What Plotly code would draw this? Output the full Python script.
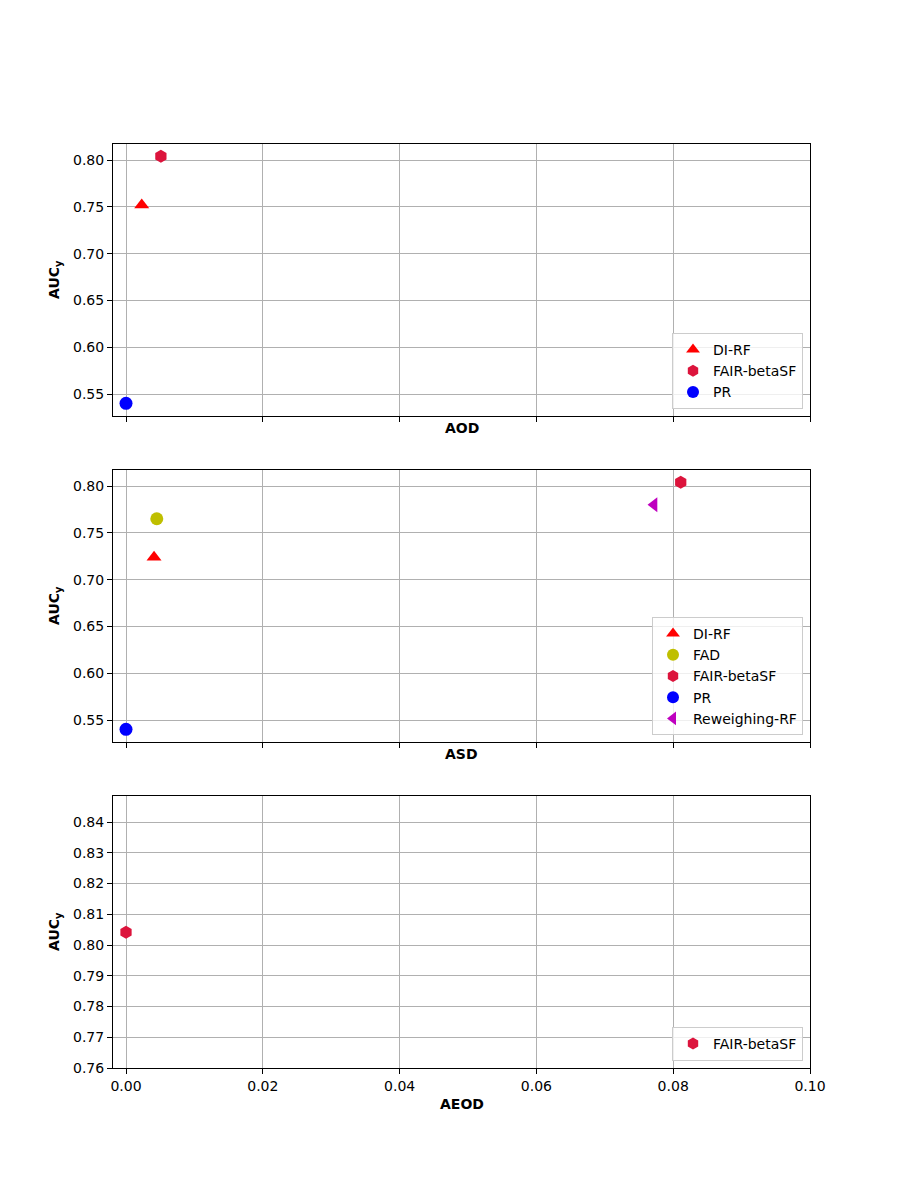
import plotly.graph_objects as go

# ---- data ----
aod_methods = ["DI-RF", "FAIR-betaSF", "PR"]
aod_x = [0.0023, 0.0051, 0.0]
aod_y = [0.752, 0.804, 0.540]

asd_methods = ["DI-RF", "FAD", "FAIR-betaSF", "PR", "Reweighing-RF"]
asd_x = [0.0041, 0.0045, 0.0811, 0.0, 0.0772]
asd_y = [0.724, 0.765, 0.804, 0.540, 0.780]

aeod_methods = ["FAIR-betaSF"]
aeod_x = [0.0]
aeod_y = [0.8042]

x_ticks = [0.0, 0.02, 0.04, 0.06, 0.08, 0.10]
y_ticks_top = [0.55, 0.60, 0.65, 0.70, 0.75, 0.80]
y_ticks_bot = [0.76, 0.77, 0.78, 0.79, 0.80, 0.81, 0.82, 0.83, 0.84]

styles = {
    "DI-RF": dict(color="#ff0000", symbol="triangle-up"),
    "FAD": dict(color="#bfbf00", symbol="circle"),
    "FAIR-betaSF": dict(color="#dc143c", symbol="hexagon"),
    "PR": dict(color="#0000ff", symbol="circle"),
    "Reweighing-RF": dict(color="#bf00bf", symbol="triangle-left"),
}

FONT = "DejaVu Sans"
FS = 14
fig = go.Figure()

panels = [
    (aod_methods, aod_x, aod_y, "x", "y", "legend", "AOD"),
    (asd_methods, asd_x, asd_y, "x2", "y2", "legend2", "ASD"),
    (aeod_methods, aeod_x, aeod_y, "x3", "y3", "legend3", "AEOD"),
]
for methods, xs, ys, xa, ya, lg, _ in panels:
    for m, xv, yv in zip(methods, xs, ys):
        st = styles[m]
        fig.add_trace(go.Scatter(
            x=[xv], y=[yv], mode="markers", name=m,
            marker=dict(color=st["color"], symbol=st["symbol"], size=13,
                        line=dict(width=0)),
            xaxis=xa, yaxis=ya, legend=lg,
        ))

W, H = 900, 1200
x0, x1 = 113 / W, 810 / W
doms = [(1 - 416 / H, 1 - 144 / H), (1 - 742 / H, 1 - 470 / H), (1 - 1068 / H, 1 - 796 / H)]
xr = [-0.0019, 0.1]
yranges = [[0.5265, 0.8171], [0.5265, 0.8171], [0.76, 0.8485]]

axis_common = dict(showline=True, linecolor="black", linewidth=1, mirror=True,
                   ticks="outside", ticklen=5, tickcolor="black",
                   showgrid=True, gridcolor="#b0b0b0", gridwidth=1,
                   zeroline=False, tickfont=dict(family=FONT, size=FS, color="black"))

layout = dict(width=W, height=H, margin=dict(l=0, r=0, t=0, b=0, autoexpand=False),
              plot_bgcolor="white", paper_bgcolor="white",
              font=dict(family=FONT, size=FS, color="black"))
for i, (dom, yrg) in enumerate(zip(doms, yranges)):
    sfx = "" if i == 0 else str(i + 1)
    layout["xaxis" + sfx] = dict(axis_common, domain=[x0, x1], range=xr,
                                  tickvals=x_ticks, tickformat=".2f",
                                  showticklabels=(i == 2),
                                  anchor="y" + sfx)
    layout["yaxis" + sfx] = dict(axis_common, domain=list(dom), range=yrg,
                                  tickvals=(y_ticks_top if i < 2 else y_ticks_bot),
                                  tickformat=".2f", anchor="x" + sfx)

leg_common = dict(bgcolor="rgba(255,255,255,0.8)", bordercolor="#cccccc", borderwidth=1,
                  font=dict(family=FONT, size=FS, color="black"),
                  xanchor="right", yanchor="bottom", itemsizing="constant",
                  tracegroupgap=0)
layout["legend"] = dict(leg_common, x=803 / W, y=1 - 409 / H)
layout["legend2"] = dict(leg_common, x=803 / W, y=1 - 735 / H)
layout["legend3"] = dict(leg_common, x=803 / W, y=1 - 1061 / H)

fig.update_layout(**layout)

xc = (x0 + x1) / 2
for (ypix, label) in [(428, "AOD"), (754, "ASD"), (1104, "AEOD")]:
    fig.add_annotation(x=xc, y=1 - ypix / H, xref="paper", yref="paper",
                       text="<b>%s</b>" % label, showarrow=False,
                       font=dict(family=FONT, size=FS, color="black"),
                       xanchor="center", yanchor="middle")
for ypix in [280, 606, 932]:
    fig.add_annotation(x=55 / W, y=1 - ypix / H, xref="paper", yref="paper",
                       text="<b>AUC<sub>y</sub></b>", showarrow=False, textangle=-90,
                       font=dict(family=FONT, size=FS, color="black"),
                       xanchor="center", yanchor="middle")

fig.write_html(
    "out.html",
    config={"displayModeBar": False},
    post_script=("document.body.style.margin='0';document.body.style.padding='0';"
                 "document.body.style.overflow='hidden';"
                 "document.documentElement.style.overflow='hidden';"),
)
